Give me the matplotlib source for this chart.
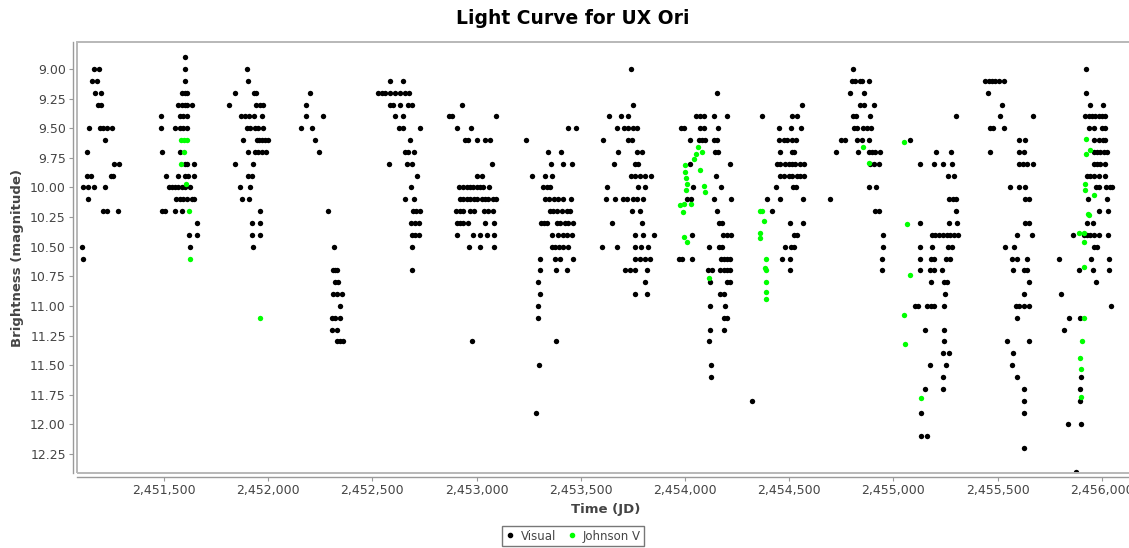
import matplotlib
matplotlib.use('Agg')
import matplotlib.pyplot as plt
from matplotlib.lines import Line2D
from matplotlib.patches import Rectangle
from matplotlib.ticker import FuncFormatter, MultipleLocator

# JD values below are given as JD - 2450000
JD0 = 2450000

# visual estimates, one list per observing season: (magnitude, [days])
season_1999 = [(9.0, [1164, 1190]), (9.1, [1155, 1177]), (9.2, [1167, 1198]), (9.3, [1185, 1196]),
               (9.5, [1142, 1193, 1209, 1225, 1249]), (9.6, [1219]), (9.7, [1131]), (9.8, [1260, 1286]),
               (9.9, [1132, 1148, 1244, 1257]), (10.0, [1113, 1137, 1164, 1219]), (10.1, [1137]),
               (10.2, [1209, 1225, 1281]), (10.5, [1107]), (10.6, [1111])]
season_2000 = [(8.9, [1599]), (9.0, [1603]), (9.1, [1599]), (9.2, [1585, 1601, 1612]),
               (9.3, [1569, 1585, 1601, 1612, 1633]), (9.4, [1486, 1577, 1593, 1609]),
               (9.5, [1486, 1553, 1577, 1593, 1609]), (9.7, [1492, 1577]), (9.8, [1601, 1612, 1644]),
               (9.9, [1510, 1569, 1601, 1617, 1644]), (10.0, [1523, 1537, 1553, 1569, 1585, 1601, 1625]),
               (10.1, [1558, 1577, 1593, 1609, 1633, 1644]), (10.2, [1492, 1505, 1553, 1585]),
               (10.3, [1657]), (10.4, [1622, 1657]), (10.5, [1625])]
season_2001 = [(9.0, [1897]), (9.1, [1902]), (9.2, [1839, 1934, 1942]), (9.3, [1814, 1942, 1961, 1977]),
               (9.4, [1870, 1889, 1908, 1934, 1969]), (9.5, [1897, 1913, 1937, 1953, 1977]),
               (9.6, [1881, 1945, 1958, 1971, 1983, 2001]), (9.7, [1902, 1937, 1953, 1969, 1988]),
               (9.8, [1839, 1929]), (9.9, [1902, 1921]), (10.0, [1865, 1913]), (10.1, [1875, 1910]),
               (10.2, [1959]), (10.3, [1921, 1961]), (10.4, [1921, 1961]), (10.5, [1929])]
season_2002 = [(9.2, [2201]), (9.3, [2180]), (9.4, [2180, 2262]), (9.5, [2158, 2212]), (9.6, [2227]),
               (9.7, [2246]), (10.2, [2286]), (10.5, [2318]), (10.7, [2310, 2321, 2332]),
               (10.8, [2321, 2337]), (10.9, [2313, 2329, 2353]), (11.0, [2343]), (11.1, [2305, 2321, 2345]),
               (11.2, [2305, 2332]), (11.3, [2329, 2345, 2358])]
season_2003 = [(9.1, [2585, 2649]), (9.2, [2529, 2545, 2561, 2585, 2609, 2633, 2657, 2678]),
               (9.3, [2585, 2601, 2633, 2673, 2689]), (9.4, [2609, 2649]), (9.5, [2630, 2649, 2729]),
               (9.6, [2681]), (9.7, [2657, 2673, 2702]), (9.8, [2582, 2665, 2689]), (9.9, [2713]),
               (10.0, [2684]), (10.1, [2657, 2702]), (10.2, [2694, 2710, 2729]), (10.3, [2686, 2705, 2726]),
               (10.4, [2689, 2705, 2726]), (10.5, [2692]), (10.7, [2692])]
season_2004 = [(9.3, [2929]), (9.4, [2868, 2884, 3094]), (9.5, [2908, 2972]),
               (9.6, [2945, 2961, 3001, 3041, 3065]), (9.8, [3075]), (9.9, [3004, 3025]),
               (10.0, [2918, 2937, 2953, 2969, 2985, 3001, 3017, 3033, 3060]),
               (10.1, [2921, 2937, 2953, 2969, 2988, 3004, 3025, 3041, 3057, 3081, 3094]),
               (10.2, [2902, 2921, 2937, 2969, 2988, 3036, 3057, 3078]),
               (10.3, [2905, 2921, 2937, 2961, 3041, 3084]), (10.4, [2905, 2982, 3017, 3052, 3084]),
               (10.5, [2966, 3017, 3084]), (11.3, [2977])]
season_2005 = [(9.5, [3441, 3478]), (9.6, [3238]), (9.7, [3342, 3404]), (9.8, [3356, 3414, 3459]),
               (9.9, [3265, 3329, 3361]), (10.0, [3321, 3337, 3353]),
               (10.1, [3329, 3350, 3372, 3393, 3417, 3455]), (10.2, [3353, 3369, 3385, 3409, 3433, 3449]),
               (10.3, [3308, 3324, 3340, 3385, 3401, 3425, 3441, 3465]),
               (10.4, [3363, 3393, 3414, 3436, 3459]), (10.5, [3361, 3377, 3398, 3417, 3438]),
               (10.6, [3305, 3377, 3401, 3465]), (10.7, [3305, 3382, 3436]), (10.8, [3297]), (10.9, [3305]),
               (11.0, [3295]), (11.1, [3295]), (11.3, [3383]), (11.5, [3302]), (11.9, [3286])]
season_2006 = [(9.0, [3740]), (9.3, [3753]), (9.4, [3636, 3692, 3729]), (9.5, [3676, 3708, 3729, 3753, 3772]),
               (9.6, [3609, 3729, 3745]), (9.7, [3681, 3769, 3793]), (9.8, [3660, 3761, 3777]),
               (9.9, [3740, 3761, 3785, 3809, 3838]), (10.0, [3625, 3777, 3809]),
               (10.1, [3619, 3665, 3705, 3721, 3753, 3772, 3798]), (10.2, [3745, 3785]), (10.3, [3652, 3793]),
               (10.4, [3761, 3801, 3852]), (10.5, [3603, 3676, 3761, 3788, 3825]),
               (10.6, [3761, 3785, 3809, 3833]), (10.7, [3713, 3737, 3761, 3817]), (10.8, [3806]),
               (10.9, [3761, 3820])]
season_2007 = [(9.2, [4153]), (9.4, [4054, 4073, 4089, 4137, 4201]), (9.5, [3980, 3996, 4073, 4092, 4158]),
               (9.6, [4025, 4065, 4081, 4097, 4137, 4153]), (9.7, [4145, 4158]), (9.8, [4025, 4217]),
               (9.9, [4148]), (10.0, [4038, 4174]), (10.1, [4009, 4028, 4137, 4220]), (10.2, [4153]),
               (10.3, [4161, 4177]), (10.4, [4036, 4182, 4204, 4220]), (10.5, [4113, 4161, 4177]),
               (10.6, [3969, 3985, 4036, 4174, 4188, 4204, 4217]),
               (10.7, [4110, 4129, 4169, 4185, 4204, 4217]), (10.8, [4118, 4201, 4214]), (10.9, [4169, 4185]),
               (11.0, [4121, 4190]), (11.1, [4185, 4201]), (11.2, [4118, 4185]), (11.3, [4113]),
               (11.5, [4127]), (11.6, [4123]), (11.8, [4323])]
season_2008 = [(9.3, [4561]), (9.4, [4371, 4513, 4537]), (9.5, [4449, 4508, 4556]),
               (9.6, [4449, 4473, 4489, 4513, 4532]), (9.7, [4457, 4513, 4524]),
               (9.8, [4441, 4457, 4481, 4497, 4513, 4529, 4553, 4569]),
               (9.9, [4457, 4473, 4497, 4513, 4537, 4553, 4569]), (10.0, [4436, 4518, 4534]),
               (10.1, [4396, 4457, 4566]), (10.2, [4417]), (10.3, [4505, 4566]), (10.4, [4524, 4537]),
               (10.5, [4478, 4508, 4521]), (10.6, [4465, 4505]), (10.7, [4505])]
season_2009 = [(9.0, [4806]), (9.1, [4801, 4817, 4838, 4849, 4884]), (9.2, [4793, 4857]),
               (9.3, [4841, 4860, 4908]), (9.4, [4806, 4820, 4889]), (9.5, [4809, 4825, 4854, 4873, 4894]),
               (9.6, [4748, 4769, 4825, 4849, 4884]), (9.7, [4724, 4828, 4881, 4897, 4913, 4934]),
               (9.8, [4889, 4908, 4929]), (10.0, [4881, 4918]), (10.1, [4697]), (10.2, [4913, 4931]),
               (10.4, [4950]), (10.5, [4950]), (10.6, [4945]), (10.7, [4945])]
season_2010 = [(9.4, [5299]), (9.6, [5078]), (9.7, [5206, 5276]), (9.8, [5126, 5196, 5238, 5281]),
               (9.9, [5262, 5292]), (10.1, [5265, 5286, 5302]), (10.2, [5300]), (10.3, [5126, 5265, 5305]),
               (10.4, [5185, 5201, 5217, 5238, 5257, 5273, 5289, 5308]), (10.5, [5126, 5185, 5262, 5281]),
               (10.6, [5129, 5182, 5196, 5254, 5270]), (10.7, [5126, 5177, 5193, 5233]),
               (10.8, [5182, 5241, 5257]), (10.9, [5249]), (11.0, [5102, 5118, 5161, 5180, 5193, 5241]),
               (11.2, [5150, 5244]), (11.3, [5244]), (11.4, [5238, 5268]), (11.5, [5177, 5252]),
               (11.6, [5238]), (11.7, [5150, 5238]), (11.9, [5134]), (12.1, [5132, 5161])]
season_2011 = [(9.1, [5441, 5457, 5473, 5489, 5505, 5529]), (9.2, [5454]), (9.3, [5521]), (9.4, [5510, 5670]),
               (9.5, [5462, 5478, 5532]), (9.6, [5601, 5633]), (9.7, [5465, 5604, 5628]),
               (9.8, [5604, 5622, 5641, 5670]), (10.0, [5561, 5604, 5633]), (10.1, [5633, 5649]),
               (10.3, [5633, 5649]), (10.4, [5593, 5665]), (10.5, [5534, 5577]), (10.6, [5569, 5593, 5641]),
               (10.7, [5572, 5628, 5641]), (10.8, [5649]), (10.9, [5628]), (11.0, [5588, 5604, 5625, 5649]),
               (11.1, [5593]), (11.3, [5545, 5649]), (11.4, [5572]), (11.5, [5569]), (11.6, [5593]),
               (11.7, [5628]), (11.8, [5628]), (11.9, [5628]), (12.2, [5628])]
season_2012 = [(9.0, [5926]), (9.2, [5926]), (9.3, [5942, 6004]),
               (9.4, [5921, 5937, 5953, 5969, 5985, 6001, 6017]), (9.5, [5937, 5964, 6001, 6017]),
               (9.6, [5964, 5985, 6004, 6017]), (9.7, [5961, 5977, 5993, 6009, 6025]),
               (9.8, [5961, 5977, 5993, 6017]), (9.9, [5929, 5945, 5964, 5985, 6017]),
               (10.0, [5972, 5988, 6022, 6038, 6051]), (10.1, [5932, 6025]), (10.2, [5985, 6030]),
               (10.3, [5929, 5958]), (10.4, [5860, 5913, 5929, 5945, 5964, 5985, 6030]), (10.5, [5964, 5977]),
               (10.6, [5793, 5948, 6036]), (10.7, [5891, 5958, 6036]), (10.8, [5972]), (10.9, [5803]),
               (11.0, [6046]), (11.1, [5844, 5894]), (11.2, [5819]), (11.6, [5900]), (11.7, [5897]),
               (11.8, [5897]), (12.0, [5839, 5900]), (12.4, [5875])]

# Johnson V photometry
jv_days = [1580, 1596, 1612, 1598, 1582, 1604, 1620, 1625, 1959,
           4062, 4081, 3999, 4041, 4054, 3999, 4073, 4006, 4012, 4089, 4097, 4006, 3977, 3993, 3990, 4031,
           3993, 4009, 4113,
           4361, 4372, 4377, 4358, 4361, 4390, 4385, 4390, 4390, 4390, 4390,
           4852, 4884, 5049, 5065, 5078, 5049, 5054, 5134,
           5926, 5942, 5926, 5921, 5921, 5961, 5932, 5937, 5889, 5913, 5916, 5916, 5913, 5905, 5897,
           5900, 5900]
jv_mag = [9.6, 9.6, 9.6, 9.7, 9.8, 9.97, 10.2, 10.6, 11.1,
          9.66, 9.7, 9.81, 9.76, 9.72, 9.87, 9.85, 9.92, 9.97, 9.99, 10.04, 10.02, 10.15, 10.14, 10.21, 10.14,
          10.42, 10.46, 10.76,
          10.2, 10.2, 10.28, 10.38, 10.43, 10.6, 10.68, 10.7, 10.8, 10.88, 10.94,
          9.66, 9.79, 9.62, 10.31, 10.74, 11.08, 11.32, 11.78,
          9.59, 9.68, 9.72, 9.97, 10.02, 10.06, 10.22, 10.23, 10.38, 10.38, 10.46, 10.67, 11.1, 11.3, 11.44,
          11.53, 11.77]

seasons = [season_1999, season_2000, season_2001, season_2002, season_2003, season_2004, season_2005,
           season_2006, season_2007, season_2008, season_2009, season_2010, season_2011, season_2012]

vis_jd = []
vis_mag = []
for season in seasons:
    for mag, days in season:
        for d in days:
            vis_jd.append(JD0 + d)
            vis_mag.append(mag)
jv_jd = [JD0 + d for d in jv_days]

W, H = 1129, 548
fig = plt.figure(figsize=(W / 100, H / 100), dpi=100)
fig.patch.set_facecolor('white')

# plot area in pixels: left 77, top 42, bottom 473, right runs past the image edge
ax = fig.add_axes([77 / W, (H - 473) / H, (1137 - 77) / W, (473 - 42) / H])
ax.scatter(vis_jd, vis_mag, s=15, color='black', linewidths=0, zorder=3)
ax.scatter(jv_jd, jv_mag, s=15, color='#00ff00', linewidths=0, zorder=4)

ax.set_xlim(JD0 + 1083, JD0 + 1083 + 1060 * 4.798)
ax.set_ylim(12.41, 8.772)

ax.xaxis.set_major_locator(MultipleLocator(500))
ax.xaxis.set_major_formatter(FuncFormatter(lambda v, p: f'{int(round(v)):,}'))
ax.yaxis.set_major_locator(MultipleLocator(0.25))
ax.yaxis.set_major_formatter(FuncFormatter(lambda v, p: f'{v:.2f}'))

for side in ['top', 'right']:
    ax.spines[side].set_visible(False)
for side in ['left', 'bottom']:
    ax.spines[side].set_position(('outward', 3))
    ax.spines[side].set_color('#9a9a9a')
    ax.spines[side].set_linewidth(1.0)
ax.add_patch(Rectangle((0, 0), 1, 1, transform=ax.transAxes, fill=False,
                       edgecolor='#b8b8b8', linewidth=1.4, clip_on=False, zorder=5))

ax.tick_params(direction='out', length=3, width=0.8, color='#9a9a9a',
               labelcolor='#444444', labelsize=9, pad=2)

fig.text(573 / W, 1 - 18 / H, 'Light Curve for UX Ori', ha='center', va='center',
         fontsize=13.5, fontweight='bold', color='black')
fig.text(606 / W, 1 - 510 / H, 'Time (JD)', ha='center', va='center',
         fontsize=9.5, fontweight='bold', color='#444444')
fig.text(18 / W, 1 - 258 / H, 'Brightness (magnitude)', ha='center', va='center', rotation=90,
         fontsize=9.5, fontweight='bold', color='#444444')

handles = [Line2D([], [], marker='o', linestyle='', color='black', markersize=3),
           Line2D([], [], marker='o', linestyle='', color='#00ff00', markersize=3)]
leg = fig.legend(handles, ['Visual', 'Johnson V'], loc='upper center',
                 bbox_to_anchor=(573 / W, 1 - 526 / H), ncol=2, fontsize=8.5,
                 frameon=True, fancybox=False, handletextpad=0.5, columnspacing=1.0,
                 handlelength=0.8, borderpad=0.3, borderaxespad=0)
leg.get_frame().set_edgecolor('#555555')
leg.get_frame().set_linewidth(1.0)
for t in leg.get_texts():
    t.set_color('#444444')

fig.savefig('out.png', dpi=100)
